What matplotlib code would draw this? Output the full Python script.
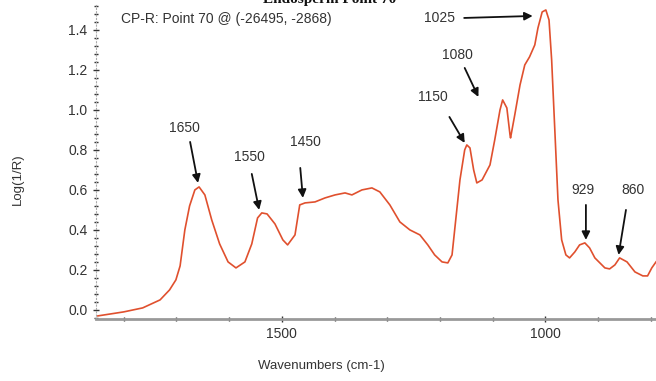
import matplotlib
matplotlib.use("Agg")
import matplotlib.pyplot as plt
from matplotlib.ticker import MultipleLocator

plt.rcParams['font.family'] = ['Liberation Sans', 'DejaVu Sans']

wavenumber = [1849, 1800, 1764, 1731, 1713, 1701, 1693, 1684, 1675, 1665, 1657, 1646, 1633, 1618,
              1602, 1587, 1570, 1557, 1546, 1538, 1528, 1513, 1498, 1489, 1475, 1466, 1456, 1437,
              1418, 1399, 1380, 1367, 1348, 1329, 1314, 1295, 1276, 1257, 1238, 1223, 1210, 1196,
              1185, 1177, 1170, 1162, 1153, 1149, 1143, 1136, 1130, 1120, 1105, 1096, 1086, 1081,
              1073, 1067, 1066, 1058, 1048, 1039, 1030, 1020, 1014, 1006, 999, 993, 988, 982, 976,
              969, 961, 954, 944, 935, 925, 916, 906, 887, 878, 868, 859, 845, 830, 815, 806, 798, 790]
log_inv_r = [-0.03, -0.01, 0.01, 0.05, 0.10, 0.15, 0.22, 0.40, 0.52, 0.60, 0.615, 0.575, 0.45, 0.33,
             0.24, 0.21, 0.24, 0.33, 0.46, 0.485, 0.48, 0.43, 0.35, 0.325, 0.375, 0.525, 0.535, 0.54,
             0.56, 0.575, 0.585, 0.575, 0.60, 0.61, 0.59, 0.525, 0.44, 0.40, 0.375, 0.325, 0.275, 0.24,
             0.235, 0.275, 0.45, 0.65, 0.80, 0.825, 0.81, 0.70, 0.635, 0.65, 0.725, 0.85, 1.0, 1.05,
             1.01, 0.875, 0.86, 0.975, 1.125, 1.225, 1.265, 1.325, 1.41, 1.49, 1.50, 1.45, 1.25, 0.90,
             0.55, 0.35, 0.275, 0.26, 0.29, 0.325, 0.335, 0.31, 0.26, 0.21, 0.205, 0.225, 0.26, 0.24,
             0.19, 0.17, 0.17, 0.21, 0.24]

peak_labels = ["1650", "1550", "1450", "1150", "1080", "1025", "929", "860"]
label_pos = [(1684, 0.91), (1561, 0.765), (1456, 0.84), (1213, 1.065), (1166, 1.275), (1200, 1.46), (929, 0.60), (834, 0.60)]
arrow_tail = [(1674, 0.84), (1557, 0.68), (1465, 0.71), (1182, 0.965), (1153, 1.21), (1154, 1.46), (923, 0.525), (847, 0.50)]
arrow_head = [(1659, 0.635), (1543, 0.50), (1460, 0.56), (1153, 0.835), (1127, 1.065), (1024, 1.47), (923, 0.35), (861, 0.275)]

fig = plt.figure(figsize=(6.56, 3.81), dpi=100)
ax = fig.add_axes([0.146, 0.163, 0.854, 0.824])

ax.plot(wavenumber, log_inv_r, color='#E0502E', lw=1.2)

ax.set_xlim(1853, 790)
ax.set_ylim(-0.045, 1.525)

ax.xaxis.set_major_locator(MultipleLocator(500))
ax.xaxis.set_minor_locator(MultipleLocator(100))
ax.yaxis.set_major_locator(MultipleLocator(0.2))
ax.yaxis.set_minor_locator(MultipleLocator(0.04))
ax.tick_params(axis='both', which='major', labelsize=10, length=5, width=1, color='#333333', direction='inout', labelcolor='#333333')
ax.tick_params(axis='both', which='minor', length=2.5, width=1, color='#333333', direction='inout')
ax.set_yticks([0.0, 0.2, 0.4, 0.6, 0.8, 1.0, 1.2, 1.4])
ax.set_yticklabels(['0.0', '0.2', '0.4', '0.6', '0.8', '1.0', '1.2', '1.4'])

for s in ['top', 'right']:
    ax.spines[s].set_visible(False)
ax.spines['bottom'].set_color('#999999')
ax.spines['bottom'].set_linewidth(2)
ax.spines['left'].set_color('#aaaaaa')
ax.spines['left'].set_linewidth(0.8)
ax.spines['left'].set_linestyle((0, (1, 2)))

for lab, lp, tl, hd in zip(peak_labels, label_pos, arrow_tail, arrow_head):
    ax.text(lp[0], lp[1], lab, ha='center', va='center', fontsize=10, color='#333333')
    ax.annotate('', xy=hd, xytext=tl,
                arrowprops=dict(arrowstyle='-|>', color='#111111', lw=1.3, mutation_scale=12,
                                shrinkA=0, shrinkB=0))

ax.text(0.045, 0.955, 'CP-R: Point 70 @ (-26495, -2868)', transform=ax.transAxes,
        fontsize=10, color='#333333', ha='left', va='center')

fig.text(0.503, 1.0, 'Endosperm Point 70', family=['Liberation Serif', 'DejaVu Serif'],
         fontweight='bold', fontsize=11, ha='center', va='center', color='#111111')

fig.text(0.49, 0.04, 'Wavenumbers (cm-1)', fontsize=9.5, ha='center', va='center', color='#333333')
fig.text(0.027, 0.53, 'Log(1/R)', fontsize=9.5, ha='center', va='center', rotation=90, color='#333333')

fig.savefig('out.png', dpi=100)
